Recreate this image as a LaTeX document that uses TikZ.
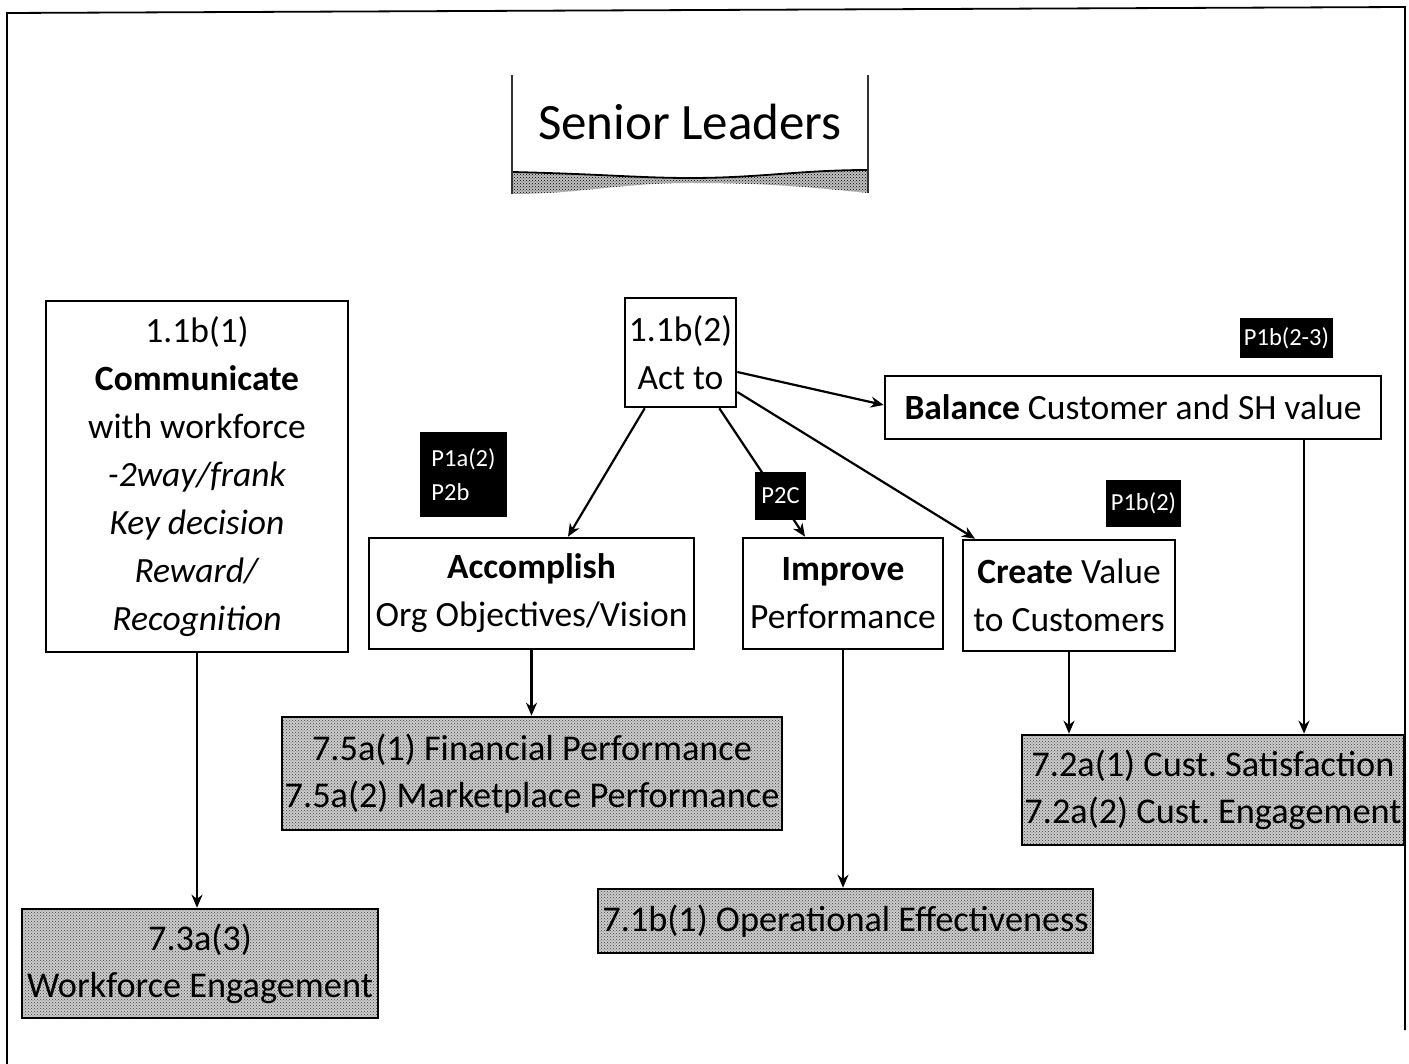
\documentclass[tikz,border=0pt]{standalone}
\usepackage{fontspec}
\setmainfont{Carlito}
\usetikzlibrary{arrows.meta,patterns}

\begin{document}
\frenchspacing
\begin{tikzpicture}[x=1pt,y=-1pt,
  box/.style={draw=black,line width=2.6pt,fill=white,align=center,inner sep=0pt,
    font=\fontsize{35.5}{48}\selectfont},
  result/.style={draw=black,line width=2.6pt,align=center,inner sep=0pt,
    font=\fontsize{36.3}{47}\selectfont,
    preaction={fill=gray!40},pattern=crosshatch dots,pattern color=gray!50!black},
  tag/.style={fill=black,text=white,inner sep=0pt,align=left,
    font=\fontsize{24.5}{34}\selectfont},
  link/.style={line width=2.2pt,-{Stealth[length=13pt,width=11pt]}}
]
\useasboundingbox (0,0) rectangle (1409,1064);

% page frame
\draw[line width=1.8pt] (7,1064) -- (7,13) -- (1405,7) -- (1405,1030);

% title banner
\fill[gray!50,preaction={fill=gray!50},pattern=crosshatch dots,pattern color=black]
  (512,172) .. controls (600,174) and (640,178) .. (690,178)
  .. controls (760,178) and (800,170) .. (868,170) -- (868,193)
  .. controls (800,186) and (760,183) .. (690,183)
  .. controls (620,183) and (580,194) .. (512,194) -- cycle;
\draw[line width=1.8pt] (512,172) .. controls (600,174) and (640,178) .. (690,178)
  .. controls (760,178) and (800,170) .. (868,170);
\draw[line width=1.3pt,gray!40!black] (512,75) -- (512,194);
\draw[line width=1.3pt,gray!40!black] (868,75) -- (868,193);
\node[font=\fontsize{51}{60}\selectfont] (title) at (690,122) {Senior Leaders};

% leadership boxes
\node[box,minimum width=302pt,minimum height=351pt] (comm) at (197,476.5)
  {1.1b(1)\\\textbf{Communicate}\\with workforce\\\textit{-2way/frank}\\
   \textit{Key decision}\\\textit{Reward/}\\\textit{Recognition}};
\node[box,minimum width=111pt,minimum height=109pt] (act) at (680.5,352.5)
  {1.1b(2)\\Act to};
\node[box,minimum width=496pt,minimum height=63pt] (bal) at (1133,407.5)
  {\textbf{Balance} Customer and SH value};
\node[box,minimum width=325pt,minimum height=111pt] (acc) at (531.5,593.5)
  {\textbf{Accomplish}\\Org Objectives/Vision};
\node[box,minimum width=200pt,minimum height=111pt] (imp) at (843,593.5)
  {\textbf{Improve}\\Performance};
\node[box,minimum width=212pt,minimum height=111pt] (cre) at (1069,595.5)
  {\textbf{Create} Value\\to Customers};

% results boxes
\node[result,minimum width=500pt,minimum height=113pt] (r75) at (532,773.5)
  {7.5a(1) Financial Performance\\7.5a(2) Marketplace Performance};
\node[result,minimum width=382pt,minimum height=110pt] (r72) at (1213,790)
  {7.2a(1) Cust. Satisfaction\\7.2a(2) Cust. Engagement};
\node[result,minimum width=495pt,minimum height=64pt] (r71) at (845.5,921)
  {7.1b(1) Operational Effectiveness};
\node[result,minimum width=356pt,minimum height=109pt] (r73) at (200,963.5)
  {7.3a(3)\\Workforce Engagement};

% connectors
\draw[link] (comm.south) -- (comm.south |- r73.north);
\draw[link] ([xshift=21pt]act.south west) -- ([xshift=36.5pt]acc.north);
\draw[link] ([xshift=-18pt]act.south east) -- ([xshift=-38pt]imp.north);
\draw[link] ([yshift=-39.5pt]act.east) -- ([xshift=-94pt]cre.north);
\draw[link] ([yshift=-19.5pt]act.east) -- ([yshift=2.5pt]bal.west);
\draw[link] (acc.south) -- (acc.south |- r75.north);
\draw[link] (imp.south) -- (imp.south |- r71.north);
\draw[link] (cre.south) -- (cre.south |- r72.north);
\coordinate (bdrop) at ([xshift=171pt]bal.south);
\draw[link] (bdrop) -- (bdrop |- r72.north);

% profile references
\node[tag,minimum width=93pt,minimum height=40pt] (t1) at (1286.5,338) {P1b(2-3)};
\node[tag,minimum width=87pt,minimum height=85pt] (t2) at (463.5,474.5) {P1a(2)\\P2b};
\node[tag,minimum width=51pt,minimum height=48pt] (t3) at (780.5,496) {P2C};
\node[tag,minimum width=75pt,minimum height=47pt] (t4) at (1143.5,503.5) {P1b(2)};
\end{tikzpicture}
\end{document}
